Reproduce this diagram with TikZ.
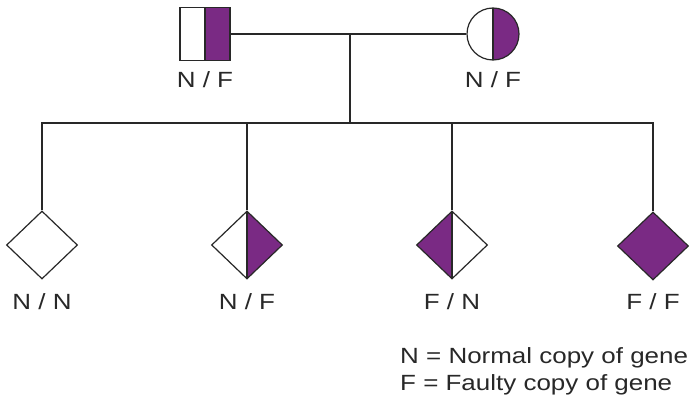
\documentclass[tikz,border=0pt]{standalone}
\usepackage{fontspec}
\usetikzlibrary{shapes.geometric}
\newfontfamily\labfont[FakeStretch=1.18]{Liberation Sans}
\definecolor{gene}{RGB}{122,42,132}
\definecolor{ink}{RGB}{40,40,40}
\tikzset{
  sym/.style={draw=ink, line width=1.2pt, inner sep=0pt},
  box/.style={sym, rectangle, minimum width=50pt, minimum height=53pt},
  disc/.style={sym, circle, minimum size=52pt},
  kite/.style={sym, diamond, minimum width=71pt, minimum height=68pt},
  split/.style={path picture={\draw[ink, line width=1.2pt]
      (path picture bounding box.north) -- (path picture bounding box.south);}},
  fillright/.style={path picture={
      \fill[gene] (path picture bounding box.north) rectangle (path picture bounding box.south east);
      \draw[ink, line width=1.2pt] (path picture bounding box.north) -- (path picture bounding box.south);}},
  fillleft/.style={path picture={
      \fill[gene] (path picture bounding box.north) rectangle (path picture bounding box.south west);
      \draw[ink, line width=1.2pt] (path picture bounding box.north) -- (path picture bounding box.south);}},
  fillall/.style={fill=gene},
  geno/.style={font=\labfont\fontsize{22}{26}\selectfont, text=ink, anchor=base, inner sep=0pt},
  key/.style={font=\labfont\fontsize{22}{26}\selectfont, text=ink, anchor=base west, inner sep=0pt},
  line/.style={draw=ink, line width=1.2pt},
}
\begin{document}
\begin{tikzpicture}[x=1pt, y=-1pt]
  \useasboundingbox (0,0) rectangle (689,404);
  \fill[white] (0,0) rectangle (689,404);

  % parents
  \node[box, fillright] (dad) at (205,34) {};
  \node[disc, fillright] (mum) at (493,34) {};
  \node[geno] (dadg) at (205,88) {N / F};
  \node[geno] (mumg) at (493,88) {N / F};

  % children
  \node[kite] (c1) at (42,245) {};
  \node[kite, fillright] (c2) at (247,245) {};
  \node[kite, fillleft] (c3) at (452,245) {};
  \node[kite, fillall] (c4) at (653,246) {};
  \node[geno] (c1g) at (42,309) {N / N};
  \node[geno] (c2g) at (247,309) {N / F};
  \node[geno] (c3g) at (452,309) {F / N};
  \node[geno] (c4g) at (653,309) {F / F};

  % mating line and descent line
  \coordinate (mate) at (350,34);
  \coordinate (sib) at (350,123);
  \draw[line] (dad.east) -- (mum.west);
  \draw[draw=ink, line width=2pt] (mate) -- (sib);

  % sibship line
  \draw[line] (c1.north) -- (c1.north |- sib) -- (c4.north |- sib) -- (c4.north);
  \draw[line] (c2.north) -- (c2.north |- sib);
  \draw[line] (c3.north) -- (c3.north |- sib);

  % key
  \node[key] (keyn) at (400,363) {N = Normal copy of gene};
  \node[key] (keyf) at (400,390) {F = Faulty copy of gene};
\end{tikzpicture}
\end{document}
